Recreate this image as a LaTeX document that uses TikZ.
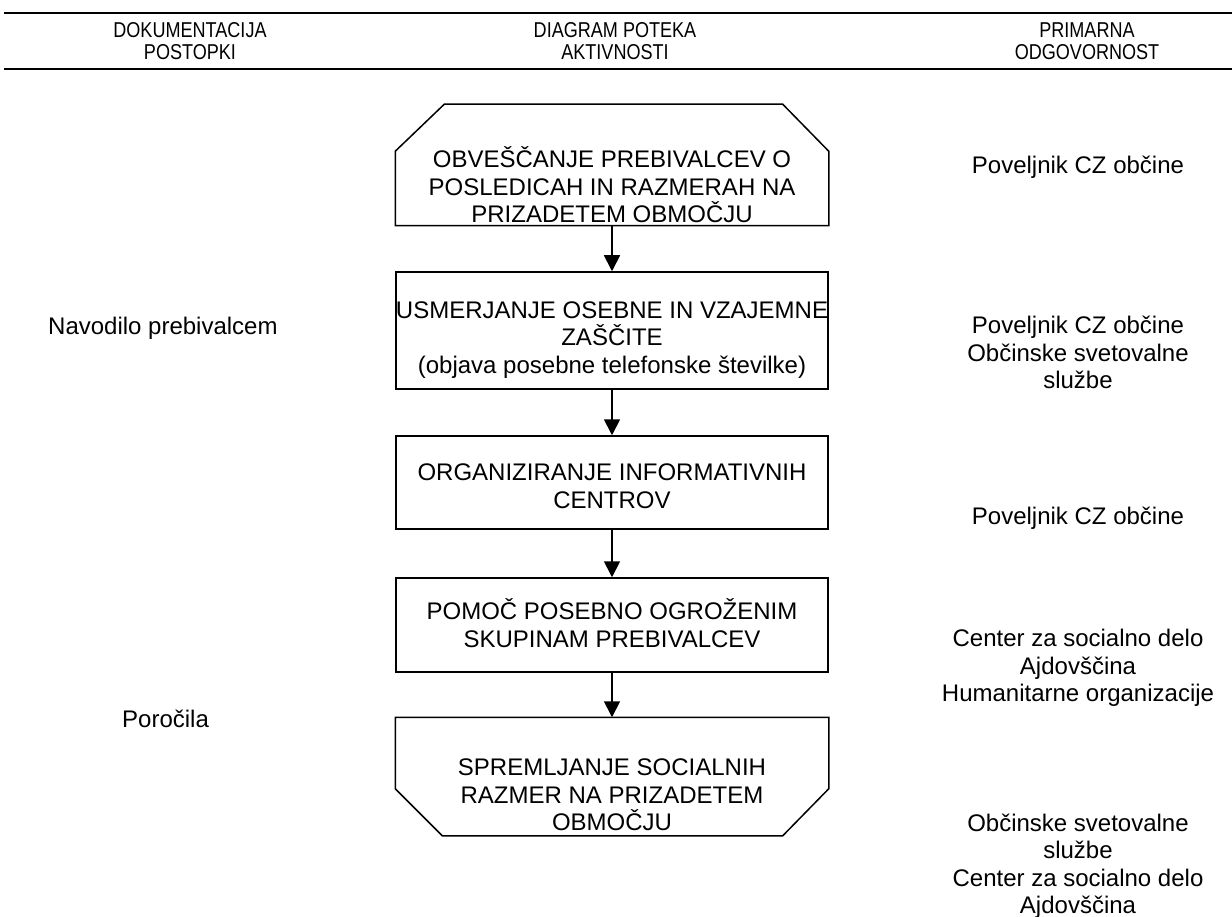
\documentclass[tikz,border=0pt]{standalone}
\usepackage{fontspec}
\usepackage{graphicx}
\setmainfont{Liberation Sans}
\usetikzlibrary{arrows.meta,calc}
\newcommand{\hdl}[1]{\scalebox{0.84}[1]{#1}}
\begin{document}
\begin{tikzpicture}[x=1pt,y=-1pt,
  hdr/.style={align=center,font=\fontsize{21.5}{22.5}\selectfont,inner sep=0pt},
  txt/.style={align=center,font=\fontsize{24}{27.5}\selectfont,inner sep=0pt},
  sidetxt/.style={align=center,font=\fontsize{24}{27.5}\selectfont,inner sep=0pt},
  boxframe/.style={rectangle,minimum width=432pt,inner sep=0pt,line width=1.5pt},
  flow/.style={line width=1.8pt,-{Triangle[width=16pt,length=16pt]}},
  rule/.style={line width=2.5pt}]
\useasboundingbox (0,0) rectangle (1232,917);
% header rules
\coordinate (r1a) at (4,13); \coordinate (r1b) at (1232,13);
\coordinate (r2a) at (4,69); \coordinate (r2b) at (1232,69);
\draw[rule] (r1a) -- (r1b);
\draw[rule] (r2a) -- (r2b);
\node[hdr] (h1) at (190,41) {\hdl{DOKUMENTACIJA}\\\hdl{POSTOPKI}};
\node[hdr] (h2) at (615,41) {\hdl{DIAGRAM POTEKA}\\\hdl{AKTIVNOSTI}};
\node[hdr] (h3) at (1087,41) {\hdl{PRIMARNA}\\\hdl{ODGOVORNOST}};
% boxes
\node[boxframe,minimum height=120pt] (b1) at (612,165) {};
\draw[line width=1.5pt] (b1.south west) -- ($(b1.north west)+(0,47)$) -- ($(b1.north west)+(49,0)$)
  -- ($(b1.north east)+(-46,0)$) -- ($(b1.north east)+(0,47)$) -- (b1.south east) -- cycle;
\node[txt] (t1) at (612,185) {OBVEŠČANJE PREBIVALCEV O\\POSLEDICAH IN RAZMERAH NA\\PRIZADETEM OBMOČJU};
\node[boxframe,draw,minimum height=117pt] (b2) at (612,330.5) {};
\node[txt] (t2) at (612,340) {USMERJANJE OSEBNE IN VZAJEMNE\\ZAŠČITE\\(objava posebne telefonske številke)};
\node[boxframe,draw,minimum height=93pt] (b3) at (612,482.5) {};
\node[txt] (t3) at (612,486) {ORGANIZIRANJE INFORMATIVNIH\\CENTROV};
\node[boxframe,draw,minimum height=94pt] (b4) at (612,625) {};
\node[txt] (t4) at (612,623) {POMOČ POSEBNO OGROŽENIM\\SKUPINAM PREBIVALCEV};
\node[boxframe,minimum height=117pt] (b5) at (612,776.5) {};
\draw[line width=1.5pt] (b5.north west) -- ($(b5.south west)+(0,-47)$) -- ($(b5.south west)+(47,0)$)
  -- ($(b5.south east)+(-46,0)$) -- ($(b5.south east)+(0,-47)$) -- (b5.north east) -- cycle;
\node[txt] (t5) at (612,795) {SPREMLJANJE SOCIALNIH\\RAZMER NA PRIZADETEM\\OBMOČJU};
% connectors
\draw[flow] (b1.south) -- (b2.north);
\draw[flow] (b2.south) -- (b3.north);
\draw[flow] (b3.south) -- (b4.north);
\draw[flow] (b4.south) -- (b5.north);
% left column
\node[sidetxt,anchor=west] (l1) at (48,328) {Navodilo prebivalcem};
\node[sidetxt,anchor=west] (l2) at (122,719) {Poročila};
% right column
\node[sidetxt] (p1) at (1078,167) {Poveljnik CZ občine};
\node[sidetxt] (p2) at (1078,352.5) {Poveljnik CZ občine\\Občinske svetovalne\\službe};
\node[sidetxt] (p3) at (1078,518) {Poveljnik CZ občine};
\node[sidetxt] (p4) at (1078,668) {Center za socialno delo\\Ajdovščina\\Humanitarne organizacije};
\node[sidetxt] (p5) at (1078,866) {Občinske svetovalne\\službe\\Center za socialno delo\\Ajdovščina};
\end{tikzpicture}
\end{document}
